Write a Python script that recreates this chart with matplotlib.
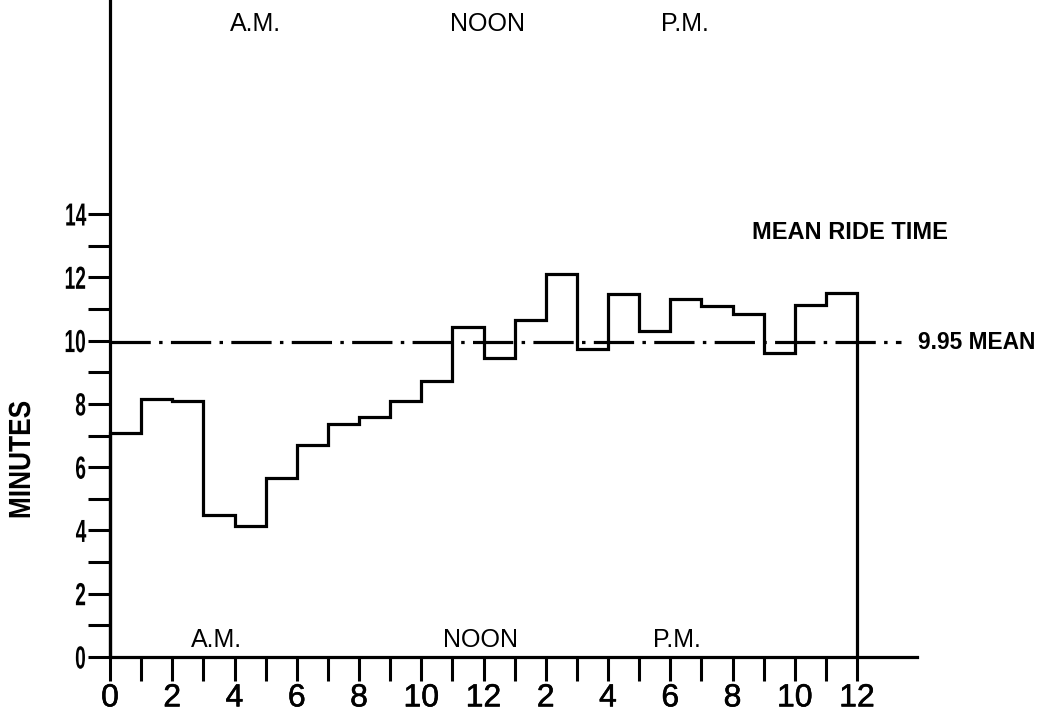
import matplotlib
matplotlib.use("Agg")
import matplotlib.pyplot as plt
from matplotlib.patheffects import AbstractPathEffect, withStroke
from matplotlib.transforms import Affine2D

plt.rcParams["lines.scale_dashes"] = False

# Mean ride time (minutes) for each hour of the day, midnight to midnight
hour_edges = list(range(0, 25))
ride_minutes = [7.09, 8.15, 8.08, 4.48, 4.15, 5.65, 6.69, 7.37, 7.57, 8.09,
                8.73, 10.43, 9.45, 10.65, 12.10, 9.73, 11.46, 10.30, 11.33,
                11.10, 10.84, 9.60, 11.11, 11.52]
mean_minutes = 9.95

x_tick_pos = list(range(0, 25, 2))
x_tick_labels = ["0", "2", "4", "6", "8", "10", "12", "2", "4", "6", "8", "10", "12"]
y_major = [0, 2, 4, 6, 8, 10, 12, 14]
y_minor = [1, 3, 5, 7, 9, 11, 13]


class Condense(AbstractPathEffect):
    """Squeeze rendered text along its reading direction (condensed type)."""

    def __init__(self, factor, axis="x", pivot="max"):
        super().__init__()
        self.factor = factor
        self.axis = axis
        self.pivot = pivot

    def draw_path(self, renderer, gc, tpath, affine, rgbFace=None):
        pts = affine.transform(tpath.vertices)
        col = 0 if self.axis == "x" else 1
        lo, hi = pts[:, col].min(), pts[:, col].max()
        p = hi if self.pivot == "max" else 0.5 * (lo + hi)
        if self.axis == "x":
            squeeze = Affine2D().translate(-p, 0).scale(self.factor, 1).translate(p, 0)
        else:
            squeeze = Affine2D().translate(0, -p).scale(1, self.factor).translate(0, p)
        renderer.draw_path(gc, tpath, affine + squeeze, rgbFace)


W, H = 1039, 716
fig = plt.figure(figsize=(W / 100, H / 100), dpi=100)
fig.patch.set_facecolor("white")

# axes placed by pixel: x=0 at 110 px, y=0 at 657 px from top
ax = fig.add_axes([110 / W, (H - 657) / H, 807 / W, 657 / H])
ax.set_xlim(0, 807 / 31.125)
ax.set_ylim(0, 657 / 31.64)

for side in ("top", "right"):
    ax.spines[side].set_visible(False)
for side in ("left", "bottom"):
    ax.spines[side].set_linewidth(2.3)
    ax.spines[side].set_color("black")

plain = ["Liberation Sans", "DejaVu Sans"]

ax.set_xticks(x_tick_pos)
ax.set_xticks(range(0, 25), minor=True)
xlabels = ax.set_xticklabels(x_tick_labels, family=plain, fontsize=23)
for t in xlabels:
    t.set_path_effects([withStroke(linewidth=0.4, foreground="black")])
ax.tick_params(axis="x", which="both", direction="out", length=17, width=2.2, pad=2)

ax.set_yticks(y_major)
ax.set_yticks(y_minor, minor=True)
ylabels = ax.set_yticklabels([str(v) for v in y_major], family=plain,
                             fontsize=23, fontweight="bold")
for t in ylabels:
    t.set_path_effects([Condense(0.6, axis="x", pivot="max")])
ax.tick_params(axis="y", which="both", direction="out", length=16, width=2.2, pad=1)

# hourly step outline dropping to zero at midnight
ax.stairs(ride_minutes, hour_edges, baseline=0, fill=False, color="black",
          linewidth=2.3, clip_on=False)

# dash-dot mean line
ax.plot([0, 25.4], [mean_minutes, mean_minutes], color="black", linewidth=2.3,
        dashes=(29, 6, 2.5, 6), solid_capstyle="butt", dash_capstyle="butt",
        clip_on=False)
ax.text(25.95, mean_minutes, f"{mean_minutes:.2f} MEAN", family=plain,
        fontsize=16.4, fontweight="bold", ha="left", va="center", clip_on=False)
ax.text(23.78, 13.43, "MEAN RIDE TIME", family=plain, fontsize=17,
        fontweight="bold", ha="center", va="center")

# period labels, top and bottom
for x, y, s in [(4.66, 20.0, "A.M."), (12.14, 20.0, "NOON"), (18.47, 20.0, "P.M."),
                (3.41, 0.55, "A.M."), (11.89, 0.55, "NOON"), (18.2, 0.55, "P.M.")]:
    ax.text(x, y, s, family=plain, fontsize=18, ha="center", va="center")

ylab = fig.text(22 / W, 1 - 460 / H, "MINUTES", family=plain, fontsize=22,
                fontweight="bold", rotation=90, ha="center", va="center")
ylab.set_path_effects([Condense(0.86, axis="y", pivot="center")])

fig.savefig("out.png", dpi=100, facecolor="white")
